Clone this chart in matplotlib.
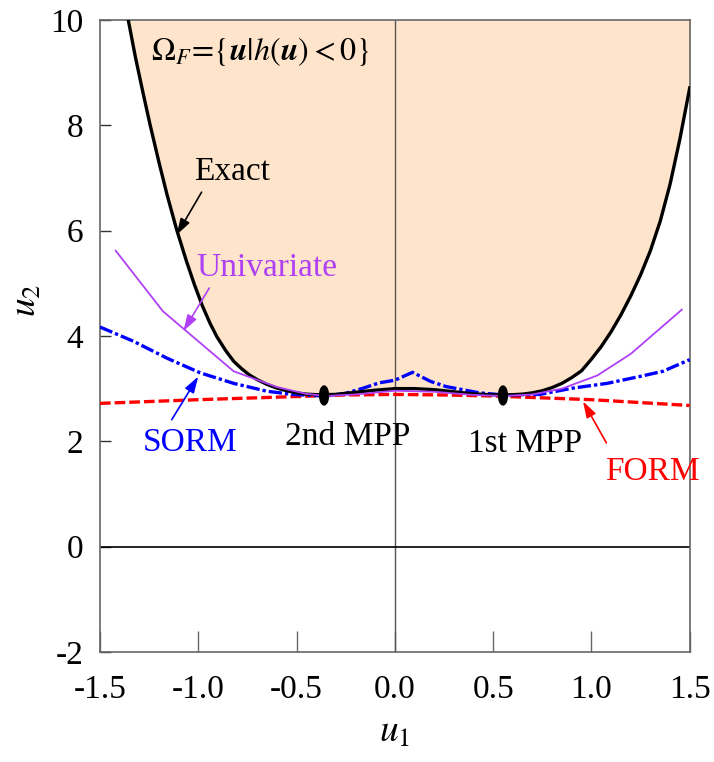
import matplotlib
matplotlib.use("Agg")
import matplotlib.pyplot as plt
from matplotlib.patches import Ellipse

plt.rcParams["font.family"] = ["Liberation Serif", "DejaVu Serif"]
plt.rcParams["mathtext.fontset"] = "stix"

# exact limit-state boundary h(u) = 0
exact_u1 = [-1.356, -1.32, -1.28, -1.245, -1.20, -1.16, -1.11, -1.06, -1.02,
            -0.98, -0.94, -0.906, -0.86, -0.82, -0.78, -0.74, -0.70, -0.65,
            -0.60, -0.55, -0.50, -0.45, -0.40, -0.30, -0.20, -0.10, 0.0, 0.10,
            0.20, 0.30, 0.40, 0.48, 0.55, 0.60, 0.65, 0.70, 0.75, 0.80, 0.85,
            0.90, 0.95, 1.00, 1.05, 1.10, 1.15, 1.20, 1.25, 1.30, 1.35, 1.40,
            1.45, 1.50]
exact_u2 = [10.0, 9.30, 8.60, 8.01, 7.30, 6.70, 6.02, 5.42, 4.98,
            4.58, 4.24, 3.99, 3.72, 3.52, 3.38, 3.26, 3.17, 3.08,
            3.01, 2.96, 2.92, 2.895, 2.885, 2.89, 2.93, 2.97, 3.00, 3.00,
            2.98, 2.94, 2.90, 2.885, 2.88, 2.885, 2.895, 2.92, 2.96, 3.02, 3.10,
            3.21, 3.34, 3.56, 3.80, 4.08, 4.40, 4.76, 5.16, 5.62, 6.18, 6.88,
            7.74, 8.71]

# univariate approximation
uni_u1 = [-1.42, -1.18, -0.82, -0.60, -0.45, -0.35, -0.20, 0.0, 0.20, 0.40,
          0.55, 0.70, 0.85, 1.03, 1.20, 1.46]
uni_u2 = [5.62, 4.47, 3.33, 3.03, 2.90, 2.86, 2.89, 2.96, 2.94, 2.88,
          2.86, 2.89, 3.00, 3.25, 3.66, 4.50]

# SORM approximation
sorm_u1 = [-1.50, -1.33, -1.16, -0.99, -0.82, -0.65, -0.52, -0.36, -0.25,
           -0.16, -0.08, 0.0, 0.09, 0.18, 0.26, 0.43, 0.55, 0.737, 0.906,
           1.08, 1.245, 1.364, 1.50]
sorm_u2 = [4.17, 3.90, 3.58, 3.30, 3.10, 2.95, 2.89, 2.86, 2.91,
           3.01, 3.11, 3.16, 3.31, 3.14, 3.04, 2.92, 2.88, 2.89, 3.01,
           3.10, 3.23, 3.33, 3.55]

# FORM approximation
form_u1 = [-1.50, -1.00, -0.50, -0.25, 0.0, 0.25, 0.50, 1.00, 1.50]
form_u2 = [2.72, 2.79, 2.85, 2.88, 2.89, 2.88, 2.86, 2.79, 2.68]

# most probable points
mpp_u1 = [-0.36, 0.55]
mpp_u2 = [2.87, 2.87]

# labels: text, text position, arrow start, arrow tip, colour
labels = ["Exact", "Univariate", "SORM", "FORM"]
label_xy = [(-0.83, 7.12), (-0.65, 5.30), (-1.04, 1.98), (1.31, 1.42)]
arrow_from = [(-0.983, 6.73), (-0.944, 4.91), (-1.135, 2.41), (1.076, 1.97)]
arrow_to = [(-1.11, 5.92), (-1.076, 4.09), (-1.0, 3.23), (0.957, 2.76)]
label_colors = ["black", "#b040f5", "#0000ff", "#ff0000"]
mpp_labels = ["2nd MPP", "1st MPP"]
mpp_label_xy = [(-0.24, 2.08), (0.66, 1.96)]

fig = plt.figure(figsize=(7.14, 7.62), dpi=100)
ax = fig.add_axes([0.140, 0.1444, 0.826, 0.8294])

ax.fill_between(exact_u1, exact_u2, 10, color="#fde4ca", lw=0, zorder=1)
ax.axvline(0, color="#555555", lw=1.0, zorder=2)
ax.axhline(0, color="black", lw=1.2, zorder=2)

ax.plot(form_u1, form_u2, color="#ff0000", lw=2.4, dashes=(3.2, 1.2), zorder=3)
ax.plot(sorm_u1, sorm_u2, color="#0000ff", lw=2.4,
        dashes=(4.0, 0.9, 1.0, 0.9), zorder=4)
ax.plot(exact_u1, exact_u2, color="black", lw=2.4, zorder=5)
ax.plot(uni_u1, uni_u2, color="#b040f5", lw=1.3, zorder=6)

for x, y in zip(mpp_u1, mpp_u2):
    ax.add_patch(Ellipse((x, y), 0.045, 0.36, color="black", zorder=7))

fs = 24
ax.text(-1.24, 9.40, r"$\Omega_F\!=\!\{\mathbfit{u}|h(\mathbfit{u})<0\}$",
        fontsize=23, va="center", ha="left")

for lab, xy, a0, a1, c in zip(labels, label_xy, arrow_from, arrow_to,
                              label_colors):
    ax.text(xy[0], xy[1], lab, fontsize=fs, color=c, ha="center",
            va="center", zorder=8)
    ax.annotate("", xy=a1, xytext=a0,
                arrowprops=dict(arrowstyle="-|>,head_length=0.7,head_width=0.22",
                                color=c, lw=1.2, mutation_scale=14,
                                shrinkA=0, shrinkB=0), zorder=8)

for lab, xy in zip(mpp_labels, mpp_label_xy):
    ax.text(xy[0], xy[1], lab, fontsize=fs, ha="center", va="center")

ax.set_xlim(-1.5, 1.5)
ax.set_ylim(-2, 10)
ax.set_xticks([-1.5, -1.0, -0.5, 0.0, 0.5, 1.0, 1.5])
ax.set_xticklabels(["-1.5", "-1.0", "-0.5", "0.0", "0.5", "1.0", "1.5"])
ax.set_yticks([-2, 0, 2, 4, 6, 8, 10])
ax.set_yticklabels(["-2", "0", "2", "4", "6", "8", "10"])
ax.tick_params(axis="x", direction="in", length=15, width=1.0,
               color="#666666", labelsize=fs, pad=16)
ax.tick_params(axis="y", direction="in", length=8, width=1.0,
               color="#333333", labelsize=fs, pad=12)
for s in ax.spines.values():
    s.set_color("#666666")
    s.set_linewidth(1.2)

ax.set_xlabel(r"$u_1$", fontsize=27)
ax.set_ylabel(r"$u_2$", fontsize=27)
ax.xaxis.set_label_coords(0.5, -0.10)
ax.yaxis.set_label_coords(-0.095, 0.557)

fig.savefig("out.png", dpi=100)
